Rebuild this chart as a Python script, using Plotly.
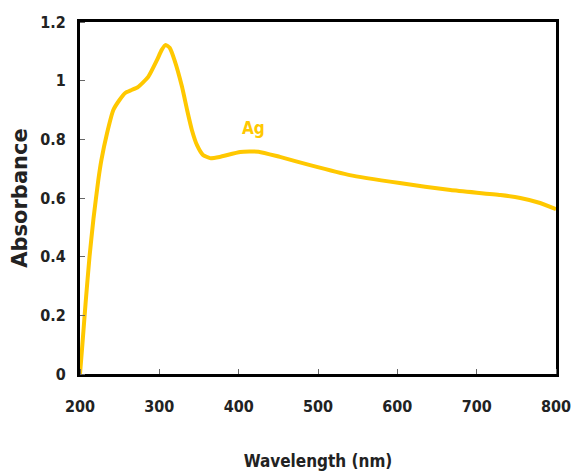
import plotly.graph_objects as go

# UV-Vis absorbance spectrum of Ag nanoparticles
wavelength = [200, 203, 207, 212, 217, 223, 227, 234, 242, 250, 257, 265, 273, 286,
              297, 303, 308, 313, 319, 328.6, 335, 341, 347.5, 355, 364, 376, 402,
              425, 452, 490, 540, 603, 667, 730, 755, 780, 800]
absorbance = [0.0, 0.10, 0.24, 0.40, 0.53, 0.66, 0.73, 0.82, 0.90, 0.935, 0.958, 0.968,
              0.978, 1.013, 1.07, 1.105, 1.122, 1.112, 1.071, 0.979, 0.90, 0.832, 0.78,
              0.747, 0.736, 0.74, 0.757, 0.758, 0.74, 0.712, 0.678, 0.651, 0.627, 0.610,
              0.600, 0.583, 0.562]
x_ticks = [200, 300, 400, 500, 600, 700, 800]
y_ticks = [0, 0.2, 0.4, 0.6, 0.8, 1.0, 1.2]
y_tick_text = ["0", "0.2", "0.4", "0.6", "0.8", "1", "1.2"]

cond_font = "DejaVu Sans Condensed, DejaVu Sans, Liberation Sans, sans-serif"
wide_font = "DejaVu Sans, Liberation Sans, sans-serif"
text_color = "#222222"
gold = "#FFC800"

fig = go.Figure()
fig.add_trace(go.Scatter(
    x=wavelength, y=absorbance, mode="lines",
    line=dict(color=gold, width=4, shape="spline", smoothing=0.5),
    showlegend=False, hoverinfo="skip",
))

fig.add_annotation(x=419, y=0.839, text="<b>Ag</b>", showarrow=False,
                   font=dict(family=cond_font, size=17, color=gold))

# Major ticks are transparent and only set the label offset;
# the visible short inward ticks are drawn as minor ticks.
axis_common = dict(
    showline=True, linecolor="black", linewidth=3, mirror=True,
    showgrid=False, zeroline=False, automargin=False,
    ticks="outside", tickwidth=1, tickcolor="rgba(0,0,0,0)",
    tickfont=dict(family=cond_font, size=16, color=text_color),
)

fig.update_xaxes(range=[200, 800], tickvals=x_ticks,
                 ticktext=[f"<b>{v}</b>" for v in x_ticks],
                 ticklen=16, ticklabeloverflow="allow",
                 minor=dict(tickvals=x_ticks, ticks="inside", ticklen=5,
                            tickwidth=1, tickcolor="#666666", showgrid=False),
                 title=dict(text="<b>Wavelength (nm)</b>", standoff=40,
                            font=dict(family=cond_font, size=17, color=text_color)),
                 **axis_common)
fig.update_yaxes(range=[0, 1.2], tickvals=y_ticks,
                 ticktext=[f"<b>{t}</b>" for t in y_tick_text],
                 ticklen=8,
                 minor=dict(tickvals=y_ticks, ticks="inside", ticklen=5,
                            tickwidth=1, tickcolor="#666666", showgrid=False),
                 title=dict(text="<b>Absorbance</b>", standoff=7,
                            font=dict(family=wide_font, size=21, color=text_color)),
                 **axis_common)

fig.update_layout(
    width=571, height=472,
    margin=dict(l=80, r=15, t=22, b=98),
    paper_bgcolor="white", plot_bgcolor="white",
)

fig.write_html("out.html")
